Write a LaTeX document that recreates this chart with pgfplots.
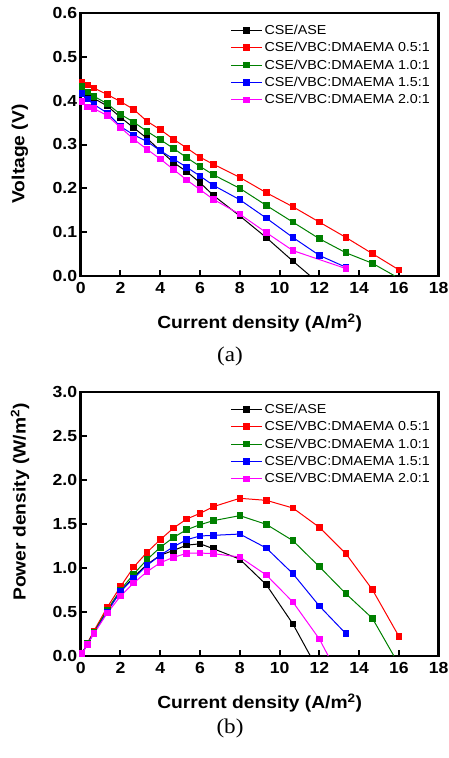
\documentclass[border=0pt]{standalone}
\usepackage{fontspec}
\setmainfont{Liberation Sans}[FakeStretch=1.1]
\newfontfamily\timesfont{Liberation Serif}[FakeStretch=1.1]
\usepackage{pgfplots}
\pgfplotsset{compat=1.18}

\definecolor{cgreen}{RGB}{0,128,0}
\definecolor{cred}{RGB}{255,0,0}
\definecolor{cblue}{RGB}{0,0,255}
\definecolor{cmag}{RGB}{255,0,255}

\pgfplotsset{
  panel/.style={
    scale only axis,
    width=358pt,
    xmin=0, xmax=18, xtick={0,2,...,18},
    axis line style={line width=2.6pt},
    tick align=inside,
    xtick pos=bottom, ytick pos=left,
    major tick length=6pt,
    tick style={line width=2pt, black},
    /pgf/number format/assume math mode=true,
    tick label style={font=\fontsize{16}{16}\selectfont\bfseries},
    xticklabel shift=3pt,
    yticklabel shift=0pt,
    label style={font=\fontsize{17.5}{18}\selectfont\bfseries},
    xlabel={Current density (A/m\textsuperscript{2})},
    legend cell align=left,
    legend style={draw=none, fill=none, inner sep=0pt,
      font=\fontsize{13}{13}\selectfont,
      nodes={inner xsep=2pt, inner ysep=0pt, minimum height=17.4pt},
      row sep=0pt,
      at={(axis description cs:0.418,0.968)}, anchor=north west},
    legend image code/.code={\draw[mark repeat=2,mark phase=2] plot coordinates {(0pt,0pt)(15.5pt,0pt)(31pt,0pt)};},
    every axis plot/.append style={line width=1pt, mark=square*, mark size=2.8pt, mark options={solid}},
  }
}

\begin{document}
\begin{tikzpicture}
\path[use as bounding box] (0,0) rectangle (449pt,-758pt);

% (a) voltage
\begin{axis}[panel,
  at={(80.7pt,-13pt)}, anchor=north west, height=263pt,
  ymin=0, ymax=0.6, ytick={0,0.1,...,0.6},
  yticklabel style={/pgf/number format/.cd, fixed, fixed zerofill, precision=1},
  ylabel={Voltage (V)},
  xlabel style={at={(axis description cs:0.5,-0.179)}, anchor=center},
  ylabel style={at={(axis description cs:-0.1696,0.464)}, anchor=center},
]
\addplot[black] coordinates {(0.067,0.425)(0.333,0.415)(0.667,0.405)(1.333,0.388)(2,0.362)(2.667,0.338)(3.333,0.314)(4,0.286)(4.667,0.259)(5.333,0.238)(6,0.213)(6.667,0.184)(8,0.137)(9.333,0.0876)(10.667,0.034)};
\addlegendentry{CSE/ASE}
\addplot[cred] coordinates {(0.067,0.443)(0.333,0.436)(0.667,0.429)(1.333,0.414)(2,0.398)(2.667,0.380)(3.333,0.353)(4,0.334)(4.667,0.312)(5.333,0.292)(6,0.271)(6.667,0.255)(8,0.225)(9.333,0.190)(10.667,0.158)(12,0.123)(13.333,0.088)(14.667,0.051)(16,0.014)};
\addlegendentry{CSE/VBC:DMAEMA 0.5:1}
\addplot[cgreen] coordinates {(0.067,0.432)(0.333,0.420)(0.667,0.410)(1.333,0.393)(2,0.369)(2.667,0.351)(3.333,0.330)(4,0.311)(4.667,0.291)(5.333,0.270)(6,0.250)(6.667,0.231)(8,0.200)(9.333,0.161)(10.667,0.123)(12,0.085)(13.333,0.053)(14.667,0.029)};
\addlegendentry{CSE/VBC:DMAEMA 1.0:1}
\addplot[cblue] coordinates {(0.067,0.416)(0.333,0.404)(0.667,0.391)(1.333,0.372)(2,0.341)(2.667,0.322)(3.333,0.307)(4,0.286)(4.667,0.267)(5.333,0.248)(6,0.228)(6.667,0.207)(8,0.174)(9.333,0.132)(10.667,0.088)(12,0.047)(13.333,0.020)};
\addlegendentry{CSE/VBC:DMAEMA 1.5:1}
\addplot[cmag] coordinates {(0.067,0.398)(0.333,0.386)(0.667,0.382)(1.333,0.366)(2,0.339)(2.667,0.312)(3.333,0.289)(4,0.267)(4.667,0.243)(5.333,0.219)(6,0.197)(6.667,0.175)(8,0.141)(9.333,0.099)(10.667,0.058)(13.333,0.017)};
\addlegendentry{CSE/VBC:DMAEMA 2.0:1}
\addplot[black, no marks, forget plot] coordinates {(10.667,0.034)(11.55,0)};
\addplot[cgreen, no marks, forget plot] coordinates {(14.667,0.029)(15.8,0)};
\end{axis}
\node[font=\timesfont\fontsize{21}{21}\selectfont] at (230pt,-356.7pt) {(a)};

% (b) power
\begin{axis}[panel,
  at={(80.7pt,-392pt)}, anchor=north west, height=264pt,
  ymin=0, ymax=3, ytick={0,0.5,...,3},
  yticklabel style={/pgf/number format/.cd, fixed, fixed zerofill, precision=1},
  ylabel={Power density (W/m\textsuperscript{2})},
  xlabel style={at={(axis description cs:0.5,-0.178)}, anchor=center},
  ylabel style={at={(axis description cs:-0.1696,0.583)}, anchor=center},
]
\addplot[black] coordinates {(0.067,0.028)(0.333,0.138)(0.667,0.272)(1.333,0.52)(2,0.73)(2.667,0.90)(3.333,1.04)(4,1.145)(4.667,1.20)(5.333,1.26)(6,1.275)(6.667,1.22)(8,1.10)(9.333,0.81)(10.667,0.365)};
\addlegendentry{CSE/ASE}
\addplot[cred] coordinates {(0.067,0.030)(0.333,0.145)(0.667,0.286)(1.333,0.553)(2,0.788)(2.667,1.011)(3.333,1.178)(4,1.322)(4.667,1.455)(5.333,1.557)(6,1.621)(6.667,1.697)(8,1.792)(9.333,1.769)(10.667,1.682)(12,1.462)(13.333,1.163)(14.667,0.754)(16,0.223)};
\addlegendentry{CSE/VBC:DMAEMA 0.5:1}
\addplot[cgreen] coordinates {(0.067,0.029)(0.333,0.140)(0.667,0.273)(1.333,0.524)(2,0.750)(2.667,0.932)(3.333,1.095)(4,1.235)(4.667,1.348)(5.333,1.436)(6,1.492)(6.667,1.538)(8,1.595)(9.333,1.496)(10.667,1.311)(12,1.015)(13.333,0.708)(14.667,0.428)};
\addlegendentry{CSE/VBC:DMAEMA 1.0:1}
\addplot[cblue] coordinates {(0.067,0.028)(0.333,0.135)(0.667,0.261)(1.333,0.500)(2,0.735)(2.667,0.883)(3.333,1.030)(4,1.144)(4.667,1.242)(5.333,1.322)(6,1.364)(6.667,1.371)(8,1.386)(9.333,1.227)(10.667,0.936)(12,0.568)(13.333,0.254)};
\addlegendentry{CSE/VBC:DMAEMA 1.5:1}
\addplot[cmag] coordinates {(0.067,0.027)(0.333,0.129)(0.667,0.255)(1.333,0.487)(2,0.680)(2.667,0.830)(3.333,0.958)(4,1.060)(4.667,1.121)(5.333,1.167)(6,1.170)(6.667,1.163)(8,1.125)(9.333,0.920)(10.667,0.614)(12,0.193)};
\addlegendentry{CSE/VBC:DMAEMA 2.0:1}
\addplot[black, no marks, forget plot] coordinates {(10.667,0.365)(11.55,0)};
\addplot[cgreen, no marks, forget plot] coordinates {(14.667,0.428)(15.75,0)};
\addplot[cmag, no marks, forget plot] coordinates {(12,0.193)(12.45,0)};
\end{axis}
\node[font=\timesfont\fontsize{21}{21}\selectfont] at (230pt,-728pt) {(b)};
\end{tikzpicture}
\end{document}
